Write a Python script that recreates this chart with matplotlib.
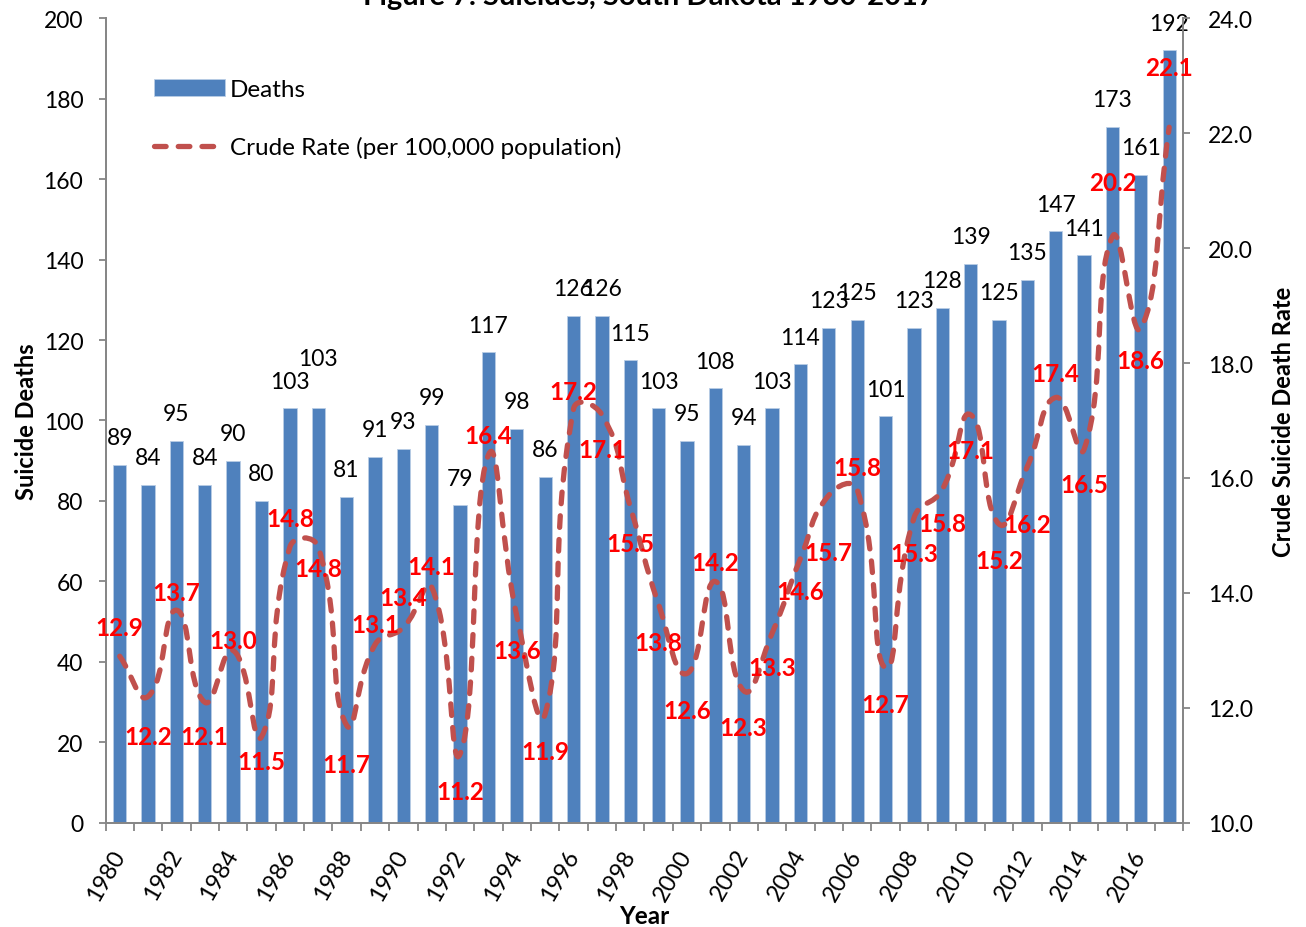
import matplotlib
matplotlib.use('Agg')
import matplotlib.pyplot as plt
from matplotlib.path import Path
from matplotlib.patches import PathPatch
from matplotlib.lines import Line2D
import numpy as np

plt.rcParams['font.family'] = ['Lato', 'DejaVu Sans']

years = list(range(1980, 2018))
deaths = [89, 84, 95, 84, 90, 80, 103, 103, 81, 91, 93, 99, 79, 117, 98, 86,
          126, 126, 115, 103, 95, 108, 94, 103, 114, 123, 125, 101, 123, 128,
          139, 125, 135, 147, 141, 173, 161, 192]
rates = [12.9, 12.2, 13.7, 12.1, 13.0, 11.5, 14.8, 14.8, 11.7, 13.1, 13.4, 14.1,
         11.2, 16.4, 13.6, 11.9, 17.2, 17.1, 15.5, 13.8, 12.6, 14.2, 12.3, 13.3,
         14.6, 15.7, 15.8, 12.7, 15.3, 15.8, 17.1, 15.2, 16.2, 17.4, 16.5, 20.2,
         18.6, 22.1]

# label placement (pixels, up = positive), taken from the original layout
death_off = [27] * len(deaths)
death_off[7] = 50
rate_off = [29, -40, 18, -34, 10, -25, 28, -22, -39, 20, 30, 21, -38, 19, -35,
            -38, 17, -35, -37, -38, -37, 19, -37, -34, -33, -57, 22, -37, -35,
            -34, -36, -37, -58, 24, -35, 54, -32, 60]

DPI = 100
px = 72.0 / DPI
bar_col = '#4F81BD'
line_col = '#C0504D'
grey = '#868686'
dash = (0, (2.2, 2.3))

fig = plt.figure(figsize=(13.06, 9.28), dpi=DPI)
ax = fig.add_axes([0.0808, 0.1121, 0.8253, 0.8674])
ax2 = ax.twinx()

x = np.arange(len(years))
bars = ax.bar(x, deaths, width=0.47, color=bar_col, edgecolor='#B9CDE5',
              linewidth=0.6, label='Deaths', zorder=2)
ax.set_xlim(-0.5, len(years) - 0.5)
ax.set_ylim(0, 200)
ax.set_yticks(range(0, 201, 20))
ax.set_xticks(x[::2])
ax.set_xticklabels([str(y) for y in years[::2]], rotation=60,
                   rotation_mode='anchor', ha='right', va='center')
ax.set_xticks(np.arange(-0.5, len(years), 1.0), minor=True)
ax.tick_params(axis='x', which='major', length=0, labelsize=17, pad=20)
ax.tick_params(axis='x', which='minor', length=6, width=1.3, color=grey)
ax.tick_params(axis='y', length=5, width=1.3, color=grey, labelsize=16.5, pad=11)

for i, v in enumerate(deaths):
    ax.annotate(str(v), (i, v), xytext=(0, death_off[i] * px),
                textcoords='offset points', ha='center', va='center',
                fontsize=16.5, color='black', zorder=3)

ax2.set_ylim(10, 24)
ax2.set_yticks(np.arange(10, 24.1, 2))
ax2.set_yticklabels(['%.1f' % t for t in np.arange(10, 24.1, 2)])
ax2.tick_params(axis='y', length=5, width=1.3, color=grey, labelsize=16.5, pad=13)

# smoothed rate curve: bezier through the points, control arms scaled by
# neighbouring segment lengths in screen space
scr = ax2.transData.transform(np.column_stack([x, rates]).astype(float))
n = len(scr)
t = 0.5
verts = [scr[0]]
codes = [Path.MOVETO]
for i in range(n - 1):
    p0 = scr[max(i - 1, 0)]
    p1 = scr[i]
    p2 = scr[i + 1]
    p3 = scr[min(i + 2, n - 1)]
    d01 = np.hypot(*(p1 - p0))
    d12 = np.hypot(*(p2 - p1))
    d23 = np.hypot(*(p3 - p2))
    c1 = p1 + (p2 - p0) * t * d12 / (d01 + d12)
    c2 = p2 - (p3 - p1) * t * d12 / (d12 + d23)
    verts += [c1, c2, p2]
    codes += [Path.CURVE4] * 3
verts = ax2.transData.inverted().transform(np.array(verts))
curve = PathPatch(Path(verts, codes), fill=False, edgecolor=line_col,
                  linewidth=3.8, linestyle=dash, zorder=4)
curve.set_capstyle('round')
ax2.add_patch(curve)

for i, v in enumerate(rates):
    ax2.annotate('%.1f' % v, (i, v), xytext=(0, rate_off[i] * px),
                 textcoords='offset points', ha='center', va='center',
                 fontsize=17.5, fontweight='bold', color='#FF0000', zorder=5)

for a in (ax, ax2):
    a.spines['top'].set_visible(False)
    for s in ('left', 'right', 'bottom'):
        a.spines[s].set_color(grey)
        a.spines[s].set_linewidth(1.3)

ax.set_ylabel('Suicide Deaths', fontsize=17, fontweight='bold', labelpad=4)
ax2.set_ylabel('Crude Suicide Death Rate', fontsize=17, fontweight='bold',
               labelpad=13)
ax.set_xlabel('Year', fontsize=17.5, fontweight='bold', labelpad=0)

rate_handle = Line2D([], [], color=line_col, linewidth=3.8,
                     linestyle=dash, dash_capstyle='round')
ax.legend([bars, rate_handle], ['Deaths', 'Crude Rate (per 100,000 population)'],
          loc='upper left', bbox_to_anchor=(0.025, 0.952), frameon=False,
          fontsize=17.5, handlelength=2.9, handletextpad=0.2, labelspacing=1.5)

fig.text(0.497, 0.9946, 'Figure 7. Suicides, South Dakota 1980-2017',
         ha='center', va='baseline', fontsize=21, fontweight='bold')

fig.savefig('out.png', dpi=DPI)
